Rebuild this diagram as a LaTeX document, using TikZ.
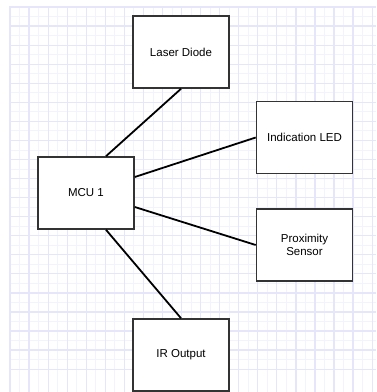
\documentclass[tikz,border=0pt]{standalone}
\usepackage{fontspec}
\setmainfont{Liberation Sans}
\definecolor{gridmajor}{RGB}{230,230,251}
\definecolor{gridminor}{RGB}{243,243,253}
\definecolor{boxline}{RGB}{51,51,51}
\begin{document}
\begin{tikzpicture}[
  x=1pt, y=-1pt,
  block/.style={rectangle, draw=boxline, line width=1.6pt, fill=white,
    minimum width=96pt, minimum height=72pt, inner sep=0pt, align=center,
    font=\fontsize{11.5}{13}\selectfont},
  wire/.style={line width=1.8pt, black},
  minorline/.style={gridminor, line width=0.9pt},
  majorline/.style={gridmajor, line width=1.2pt}
]
  \useasboundingbox (0,0) rectangle (376,392);
  % background grid
  \foreach \i in {0,...,38} {
    \draw[minorline] ({10+\i*9.53},6) -- ({10+\i*9.53},392);
    \draw[minorline] (10,{7+\i*9.53}) -- (376,{7+\i*9.53});
  }
  \foreach \i in {0,...,19} {
    \draw[majorline] ({10+\i*19.06},6) -- ({10+\i*19.06},392);
    \draw[majorline] (10,{7+\i*19.06}) -- (376,{7+\i*19.06});
  }

  \node[block] (laser) at (181,52) {Laser Diode};
  \node[block] (led) at (304.5,137.5) {Indication LED};
  \node[block] (mcu) at (86,193) {MCU 1};
  \node[block] (prox) at (304.5,245) {Proximity\\Sensor};
  \node[block] (ir) at (181,355) {IR Output};

  \draw[wire] (laser.south) -- ([xshift=20pt]mcu.north);
  \draw[wire] ([yshift=16pt]mcu.east) -- (led.west);
  \draw[wire] ([yshift=-14pt]mcu.east) -- (prox.west);
  \draw[wire] ([xshift=20pt]mcu.south) -- (ir.north);
\end{tikzpicture}
\end{document}
